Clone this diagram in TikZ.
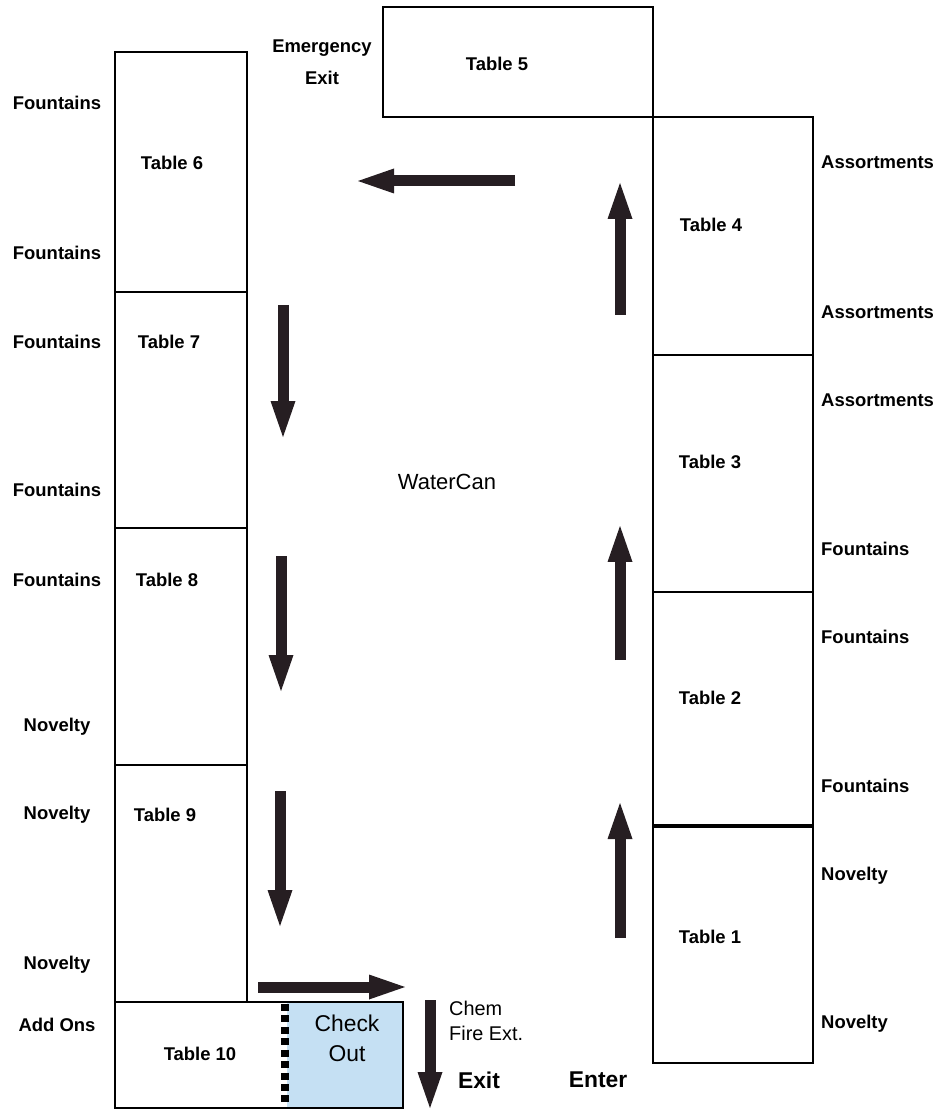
\documentclass[tikz,border=0pt]{standalone}
\usepackage{fontspec}
\setmainfont{Liberation Sans}
\usetikzlibrary{arrows.meta}
\definecolor{flowdark}{RGB}{38,30,34}
\definecolor{checkblue}{RGB}{197,224,243}
\tikzset{
    tablebox/.style={draw, line width=1.1pt},
    tabname/.style={font=\fontsize{10.5}{12}\selectfont\bfseries},
    goods/.style={font=\fontsize{10.5}{12}\selectfont\bfseries},
    note/.style={font=\fontsize{12.5}{15}\selectfont},
    flow/.style={draw=flowdark, line width=0.22cm,
        -{Triangle[length=0.72cm, width=0.5cm, line width=0pt]}}
}

\begin{document}
\begin{tikzpicture}[x=0.02cm, y=-0.02cm]
    \useasboundingbox[fill=white] (0,0) rectangle (940,1114);
    % Table 5 at the top
    \draw[tablebox] (383,7) rectangle (653,117);
    \node[tabname] (tab5) at (497,64) {Table 5};
    \node[goods, align=center, font=\fontsize{10.5}{18}\selectfont\bfseries] (emexit) at (322,62) {Emergency\\Exit};
    % Left column, tables 6 to 9
    \draw[tablebox] (115,52) rectangle (247,292);
    \draw[tablebox] (115,292) rectangle (247,528);
    \draw[tablebox] (115,528) rectangle (247,765);
    \draw[tablebox] (115,765) rectangle (247,1002);
    \node[tabname] (tab6) at (172,163) {Table 6};
    \node[tabname] (tab7) at (169,342) {Table 7};
    \node[tabname] (tab8) at (167,580) {Table 8};
    \node[tabname] (tab9) at (165,815) {Table 9};
    % Table 10 and check out
    \fill[checkblue] (287,1002) rectangle (403,1108);
    \draw[tablebox] (115,1002) rectangle (403,1108);
    \draw[line width=5pt, dash pattern=on 4pt off 2.5pt] (285,1004) -- (285,1106);
    \node[tabname] (tab10) at (200,1054) {Table 10};
    \node[note, align=center, font=\fontsize{13}{17}\selectfont] (checkout) at (347,1038) {Check\\Out};
    % Right column, tables 1 to 4
    \draw[tablebox] (653,117) rectangle (813,355);
    \draw[tablebox] (653,355) rectangle (813,592);
    \draw[tablebox] (653,592) rectangle (813,826);
    \draw[tablebox] (653,826) rectangle (813,1063);
    \draw[line width=2.2pt] (653,826) -- (813,826);
    \node[tabname] (tab4) at (711,225) {Table 4};
    \node[tabname] (tab3) at (710,462) {Table 3};
    \node[tabname] (tab2) at (710,698) {Table 2};
    \node[tabname] (tab1) at (710,937) {Table 1};
    % Goods along the left wall
    \node[goods] (left1) at (57,103) {Fountains};
    \node[goods] (left2) at (57,253) {Fountains};
    \node[goods] (left3) at (57,342) {Fountains};
    \node[goods] (left4) at (57,490) {Fountains};
    \node[goods] (left5) at (57,580) {Fountains};
    \node[goods] (left6) at (57,727) {Novelty};
    \node[goods] (left7) at (57,815) {Novelty};
    \node[goods] (left8) at (57,965) {Novelty};
    \node[goods] (left9) at (57,1025) {Add Ons};
    % Goods along the right wall
    \node[goods, anchor=west] (right1) at (815,162) {Assortments};
    \node[goods, anchor=west] (right2) at (815,312) {Assortments};
    \node[goods, anchor=west] (right3) at (815,400) {Assortments};
    \node[goods, anchor=west] (right4) at (815,549) {Fountains};
    \node[goods, anchor=west] (right5) at (815,637) {Fountains};
    \node[goods, anchor=west] (right6) at (815,786) {Fountains};
    \node[goods, anchor=west] (right7) at (815,876) {Novelty};
    \node[goods, anchor=west] (right8) at (815,1024) {Novelty};
    % Middle texts
    \node[note] (watercan) at (447,482) {WaterCan};
    \node[align=left, anchor=west, font=\fontsize{11.3}{14.2}\selectfont] (chem) at (443,1021) {Chem\\Fire Ext.};
    \node[font=\fontsize{13}{15}\selectfont\bfseries] (exit) at (479,1080) {Exit};
    \node[font=\fontsize{13}{15}\selectfont\bfseries] (enter) at (598,1080) {Enter};
    % Walking direction
    \draw[flow] (620,938) -- (620,803);
    \draw[flow] (620,660) -- (620,526);
    \draw[flow] (620,315) -- (620,183);
    \draw[flow] (515,181) -- (358,181);
    \draw[flow] (283,305) -- (283,437);
    \draw[flow] (281,556) -- (281,691);
    \draw[flow] (280,791) -- (280,926);
    \draw[flow] (258,987) -- (405,987);
    \draw[flow] (430,1000) -- (430,1108);
\end{tikzpicture}
\end{document}
